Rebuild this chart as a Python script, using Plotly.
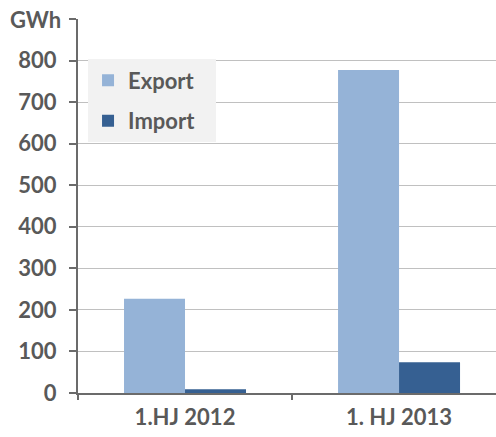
import plotly.graph_objects as go

categories = ["1.HJ 2012", "1. HJ 2013"]
export_vals = [227, 777]
import_vals = [9, 74]
series_names = ["Export", "Import"]
tick_vals = [0, 100, 200, 300, 400, 500, 600, 700, 800]
tick_text = ["0", "100", "200", "300", "400", "500", "600", "700", "800"]

TXT = "#595959"
AX = "#6b6b6b"
FONT = "Lato"
FS = 22
XRANGE = [-0.5, 1.453]
PAD = "\u00a0\u00a0\u00a0"

fig = go.Figure()
fig.add_trace(go.Bar(name=series_names[0] + PAD, x=categories, y=export_vals,
                     marker=dict(color="#95B3D7", line=dict(width=0)),
                     legendgroup="a"))
fig.add_trace(go.Bar(name=series_names[1] + PAD, x=categories, y=import_vals,
                     marker=dict(color="#366092", line=dict(width=0)),
                     legendgroup="b"))
# helper trace so the boundary-tick axis is drawn
fig.add_trace(go.Scatter(x=[0], y=[0], xaxis="x2", mode="markers",
                         marker=dict(opacity=0), showlegend=False,
                         hoverinfo="skip"))

fig.update_layout(
    width=496, height=437,
    margin=dict(l=78, r=0, t=19, b=44),
    paper_bgcolor="white", plot_bgcolor="white",
    barmode="group", bargap=0.43, bargroupgap=0,
    font=dict(family=FONT, size=FS, color=TXT, weight="bold"),
    showlegend=True,
    legend=dict(x=0.024, y=0.892, xanchor="left", yanchor="top",
                bgcolor="#f2f2f2", traceorder="grouped", tracegroupgap=9,
                font=dict(family=FONT, size=FS, color=TXT, weight="bold"),
                itemwidth=30),
    xaxis=dict(type="category", range=XRANGE, showline=True,
               linecolor=AX, linewidth=2, ticks="", showgrid=False,
               ticklabelstandoff=4,
               tickfont=dict(family=FONT, size=FS, color=TXT, weight="bold")),
    xaxis2=dict(overlaying="x", anchor="y", side="bottom", range=XRANGE,
                tickvals=[-0.5, 0.5], showticklabels=False, ticks="outside",
                ticklen=6, tickwidth=2, tickcolor=AX, showgrid=False,
                showline=False, zeroline=False),
    yaxis=dict(range=[0, 900], tickvals=tick_vals + [900], ticktext=tick_text + [" "],
               showline=True, linecolor=AX, linewidth=2,
               ticks="outside", ticklen=7, tickwidth=2, tickcolor=AX,
               showgrid=True, gridcolor="#c0c0c0", gridwidth=1, zeroline=False,
               ticklabelstandoff=8,
               tickfont=dict(family=FONT, size=FS, color=TXT, weight="bold")),
)

fig.add_annotation(text="GWh", xref="paper", yref="y", x=-0.036, y=900,
                   xanchor="right", yanchor="middle", showarrow=False,
                   font=dict(family=FONT, size=FS, color=TXT, weight="bold"))

fig.write_html("out.html")
